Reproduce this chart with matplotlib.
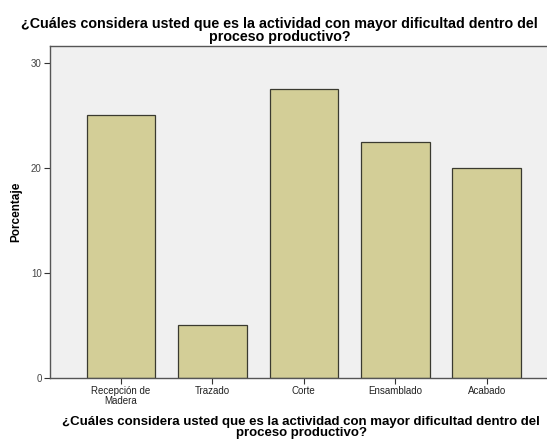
import matplotlib.pyplot as plt

plt.rcParams['font.family'] = ['Liberation Sans', 'DejaVu Sans']

# categorías y porcentajes
categorias = ["Recepción de\nMadera", "Trazado", "Corte", "Ensamblado", "Acabado"]
porcentajes = [25.0, 5.0, 27.5, 22.5, 20.0]
ticks_y = [0, 10, 20, 30]

titulo = "¿Cuáles considera usted que es la actividad con mayor dificultad dentro del\nproceso productivo?"

fig = plt.figure(figsize=(5.47, 4.41), dpi=100)
ax = fig.add_axes([50 / 547, 1 - 378 / 441, 1 - 50 / 547, (378 - 46) / 441])
ax.set_facecolor('#F0F0F0')

x = list(range(len(categorias)))
ax.bar(x, porcentajes, width=0.75, color='#D3CE97', edgecolor='#3A3A30', linewidth=0.9, zorder=2)

ax.set_xlim(-0.776, 4.66)
ax.set_ylim(0, 31.6)
ax.set_yticks(ticks_y)
ax.set_yticklabels([str(t) for t in ticks_y], fontsize=7, color='#444444')
ax.set_xticks(x)
ax.set_xticklabels(categorias, fontsize=7, color='#222222', linespacing=0.95)
ax.tick_params(axis='both', length=4, width=0.8, color='#333333', direction='out', pad=2)

for s in ['top', 'left', 'bottom']:
    ax.spines[s].set_color('#555555')
    ax.spines[s].set_linewidth(1.0)
ax.spines['right'].set_visible(False)

ax.set_ylabel("Porcentaje", fontsize=8.5, fontweight='bold', labelpad=6)

fig.text(0.511, 0.962, titulo, ha='center', va='top', fontsize=10.3, fontweight='bold', linespacing=0.92)
fig.text(0.551, 0.057, titulo, ha='center', va='top', fontsize=9.5, fontweight='bold', linespacing=0.92)

fig.savefig('out.png', dpi=100)
